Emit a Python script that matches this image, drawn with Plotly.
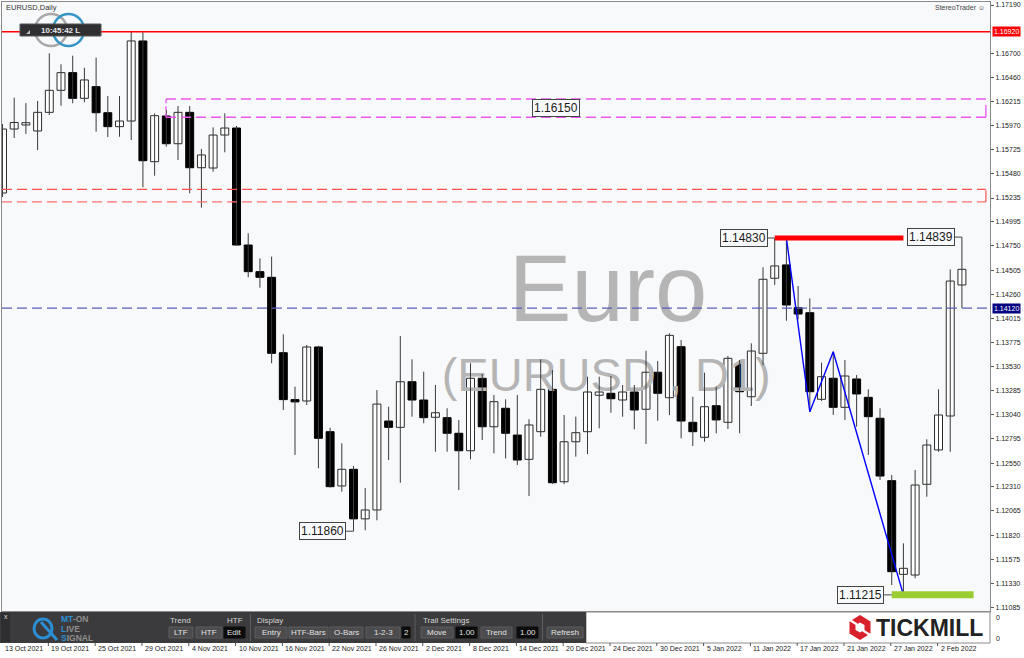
import plotly.graph_objects as go

# ---------------- data (EURUSD daily) ----------------
opens = [1.15286, 1.15934, 1.15975, 1.15914, 1.16103, 1.16326, 1.16505, 1.16245, 1.16363, 1.16099,
         1.15958, 1.16015, 1.16826, 1.15603, 1.16066, 1.15785, 1.16103, 1.15542, 1.15539, 1.15873,
         1.15944, 1.14759, 1.14489, 1.14432, 1.13668, 1.13193, 1.13179, 1.13726, 1.12868, 1.12318,
         1.12487, 1.11985, 1.12075, 1.12976, 1.12912, 1.13374, 1.13189, 1.13014, 1.13010, 1.12852,
         1.12675, 1.13409, 1.12918, 1.13105, 1.12834, 1.12588, 1.12868, 1.13297, 1.12361, 1.12766,
         1.12868, 1.13237, 1.13257, 1.13189, 1.13270, 1.13095, 1.13470, 1.13212, 1.13729, 1.12963,
         1.12811, 1.13131, 1.12963, 1.13554, 1.13222, 1.13662, 1.14422, 1.14557, 1.14124, 1.14073,
         1.13196, 1.13409, 1.13115, 1.13402, 1.13216, 1.13004, 1.12372, 1.11423, 1.11416, 1.12335,
         1.12683, 1.13027, 1.14354]
highs = [1.15985, 1.16251, 1.16197, 1.16218, 1.16701, 1.16590, 1.16677, 1.16555, 1.16657, 1.16268,
         1.16268, 1.16927, 1.16914, 1.16093, 1.16127, 1.16167, 1.16167, 1.15732, 1.15951, 1.16093,
         1.15965, 1.14878, 1.14624, 1.14641, 1.13855, 1.13324, 1.13746, 1.13739, 1.12908, 1.12750,
         1.12520, 1.12298, 1.13290, 1.13121, 1.13837, 1.13601, 1.13476, 1.13341, 1.13105, 1.12987,
         1.13561, 1.13452, 1.13240, 1.13196, 1.13240, 1.12994, 1.13601, 1.13493, 1.13037, 1.13020,
         1.13425, 1.13425, 1.13432, 1.13341, 1.13341, 1.13688, 1.13584, 1.13865, 1.13797, 1.13222,
         1.13466, 1.13324, 1.13635, 1.13594, 1.13763, 1.14533, 1.14830, 1.14825, 1.14344, 1.14219,
         1.13567, 1.13678, 1.13594, 1.13442, 1.13297, 1.13105, 1.12429, 1.11737, 1.12480, 1.12791,
         1.13297, 1.14513, 1.14839]
lows = [1.15245, 1.15843, 1.15884, 1.15721, 1.16076, 1.16170, 1.16195, 1.16205, 1.15907, 1.15853,
        1.15856, 1.15823, 1.15344, 1.15461, 1.15755, 1.15620, 1.15283, 1.15137, 1.15502, 1.15698,
        1.14752, 1.14432, 1.14327, 1.13561, 1.13088, 1.12632, 1.13138, 1.12497, 1.12301, 1.12260,
        1.11860, 1.11870, 1.11970, 1.12581, 1.12351, 1.13020, 1.12953, 1.12665, 1.12665, 1.12277,
        1.12588, 1.12784, 1.12649, 1.12598, 1.12530, 1.12216, 1.12817, 1.12338, 1.12338, 1.12615,
        1.12642, 1.12902, 1.13060, 1.13020, 1.12892, 1.12743, 1.12979, 1.13037, 1.12801, 1.12723,
        1.12766, 1.12852, 1.12895, 1.12852, 1.13128, 1.13543, 1.14354, 1.13992, 1.14006, 1.13070,
        1.13179, 1.13037, 1.12987, 1.12919, 1.12632, 1.12379, 1.11315, 1.11215, 1.11383, 1.12209,
        1.12665, 1.12665, 1.14120]
closes = [1.15934, 1.16000, 1.15998, 1.16103, 1.16326, 1.16505, 1.16245, 1.16431, 1.16099, 1.15958,
          1.16015, 1.16826, 1.15613, 1.16069, 1.15785, 1.16103, 1.15542, 1.15671, 1.15873, 1.15944,
          1.14759, 1.14489, 1.14432, 1.13662, 1.13193, 1.13170, 1.13726, 1.12801, 1.12311, 1.12487,
          1.11985, 1.12075, 1.13148, 1.12912, 1.13374, 1.13189, 1.13010, 1.13060, 1.12852, 1.12675,
          1.13409, 1.12918, 1.13172, 1.12852, 1.12581, 1.12936, 1.13297, 1.12351, 1.12766, 1.12858,
          1.13270, 1.13270, 1.13202, 1.13270, 1.13088, 1.13470, 1.13257, 1.13844, 1.12976, 1.12868,
          1.13121, 1.12987, 1.13611, 1.13273, 1.13685, 1.14412, 1.14547, 1.14151, 1.14060, 1.13273,
          1.13425, 1.13115, 1.13432, 1.13250, 1.13020, 1.12419, 1.11450, 1.11484, 1.12328, 1.12733,
          1.13037, 1.14394, 1.14513]

date_labels = ["13 Oct 2021", "19 Oct 2021", "25 Oct 2021", "29 Oct 2021", "4 Nov 2021",
               "10 Nov 2021", "16 Nov 2021", "22 Nov 2021", "26 Nov 2021", "2 Dec 2021",
               "8 Dec 2021", "14 Dec 2021", "20 Dec 2021", "24 Dec 2021", "30 Dec 2021",
               "5 Jan 2022", "11 Jan 2022", "17 Jan 2022", "21 Jan 2022", "27 Jan 2022",
               "2 Feb 2022"]
label_step = 4  # one date label every 4 bars

price_ticks = [1.17190, 1.16700, 1.16460, 1.16215, 1.15970, 1.15725, 1.15480, 1.15235,
               1.14995, 1.14750, 1.14505, 1.14260, 1.14015, 1.13775, 1.13530, 1.13285, 1.13040,
               1.12795, 1.12550, 1.12310, 1.12065, 1.11820, 1.11575, 1.11330, 1.11085]

resistance_level = 1.16920
bid_level = 1.14120
magenta_zone = [1.16053, 1.16238]
magenta_start_bar = 14
red_zone = [1.15195, 1.15323]
zone_end_bar = 84.05
high_mark = [66, 77, 1.14830]      # bar from, bar to, price
low_mark = [76, 83, 1.11215]
zigzag_bars = [67, 69, 71, 77]
zigzag_prices = [1.14827, 1.13070, 1.13678, 1.11215]
price_labels = [(66, 1.14830, "1.14830"), (82, 1.14839, "1.14839"),
                (76, 1.11215, "1.11215"), (30, 1.11860, "1.11860")]
zone_label = (47.3, 1.16146, "1.16150")

X_RANGE = [-0.043, 84.40]
Y_RANGE = [1.110516, 1.172207]

W, H = 1024, 658
ML, MR, MT, MB = 2, 34, 2, 47
PW = W - ML - MR
PH = H - MT - MB


def X(px):
    return (px - ML) / PW


def Y(py):
    return (H - MB - py) / PH


n = len(opens)
idx = list(range(n))

fig = go.Figure()

# watermark (drawn first so candles are over it)
fig.add_trace(go.Scatter(x=[51.75], y=[1.14225], mode="text", text=["Euro"],
                         textfont=dict(family="Liberation Sans", size=94, color="#b5b5b5"),
                         hoverinfo="skip"))
fig.add_trace(go.Scatter(x=[51.6], y=[1.13395], mode="text", text=["(EURUSD , D1)"],
                         textfont=dict(family="Liberation Sans", size=47, color="#b5b5b5"),
                         hoverinfo="skip"))

# wicks
wx, wy = [], []
for i in idx:
    wx += [i, i, None]
    wy += [lows[i], highs[i], None]
fig.add_trace(go.Scatter(x=wx, y=wy, mode="lines", line=dict(color="#3a3a3a", width=1),
                         hoverinfo="skip"))

# bodies
base = [min(o, c) for o, c in zip(opens, closes)]
hgt = [max(abs(c - o), 0.00002) for o, c in zip(opens, closes)]
fill = ["#ffffff" if c >= o else "#000000" for o, c in zip(opens, closes)]
edge = ["#2a2a2a" if c >= o else "#000000" for o, c in zip(opens, closes)]
fig.add_trace(go.Bar(x=idx, y=hgt, base=base, width=0.68,
                     marker=dict(color=fill, line=dict(color=edge, width=1)),
                     hoverinfo="skip"))

# zigzag
fig.add_trace(go.Scatter(x=zigzag_bars, y=zigzag_prices, mode="lines",
                         line=dict(color="#0000ff", width=1.4), hoverinfo="skip"))

shapes = []
dash = "10px,5px"
# resistance solid line
shapes.append(dict(type="line", xref="paper", yref="y", x0=0, x1=1,
                   y0=resistance_level, y1=resistance_level,
                   line=dict(color="#ff0000", width=1.6)))
# magenta dashed zone
for lv in magenta_zone:
    shapes.append(dict(type="line", xref="x", yref="y", x0=magenta_start_bar - 0.03, x1=zone_end_bar,
                       y0=lv, y1=lv, line=dict(color="#ee55ee", width=1.3, dash=dash)))
shapes.append(dict(type="line", xref="x", yref="y", x0=magenta_start_bar - 0.03, x1=magenta_start_bar - 0.03,
                   y0=magenta_zone[0], y1=magenta_zone[1], line=dict(color="#ee55ee", width=1.3, dash="4px,3px")))
shapes.append(dict(type="line", xref="x", yref="y", x0=zone_end_bar, x1=zone_end_bar,
                   y0=magenta_zone[0], y1=magenta_zone[1] - 0.0006, line=dict(color="#ee55ee", width=1.3)))
# red dashed zone
shapes.append(dict(type="line", xref="x", yref="y", x0=X_RANGE[0], x1=zone_end_bar,
                   y0=red_zone[1], y1=red_zone[1], line=dict(color="#ff4f4f", width=1.3, dash=dash)))
shapes.append(dict(type="line", xref="x", yref="y", x0=X_RANGE[0], x1=zone_end_bar,
                   y0=red_zone[0], y1=red_zone[0], line=dict(color="#ff6f6f", width=1.3, dash=dash)))
shapes.append(dict(type="line", xref="x", yref="y", x0=zone_end_bar, x1=zone_end_bar,
                   y0=red_zone[0], y1=red_zone[1] - 0.0001, line=dict(color="#ff5f5f", width=1.3)))
# bid dashed line
shapes.append(dict(type="line", xref="paper", yref="y", x0=0, x1=1, y0=bid_level, y1=bid_level,
                   line=dict(color="#5c5cb8", width=1.3, dash=dash)))
# high / low bars
shapes.append(dict(type="line", xref="x", yref="y", x0=high_mark[0], x1=high_mark[1],
                   y0=high_mark[2], y1=high_mark[2], line=dict(color="#ff0000", width=5)))
shapes.append(dict(type="line", xref="x", yref="y", x0=low_mark[0], x1=low_mark[1],
                   y0=low_mark[2], y1=low_mark[2], line=dict(color="#9acd32", width=7)))

# ---- top-left logo circles & time box ----
shapes.append(dict(type="circle", xref="paper", yref="paper", x0=X(35), x1=X(67), y0=Y(46), y1=Y(14),
                   line=dict(color="#a8a8a8", width=2.5)))
shapes.append(dict(type="circle", xref="paper", yref="paper", x0=X(53), x1=X(84), y0=Y(46), y1=Y(14),
                   line=dict(color="#3495c6", width=2.5)))
shapes.append(dict(type="rect", xref="paper", yref="paper", x0=X(20), x1=X(101), y0=Y(36), y1=Y(24),
                   fillcolor="#303033", line=dict(color="#555", width=1)))
shapes.append(dict(type="path", xref="paper", yref="paper",
                   path=f"M{X(26)},{Y(34)} L{X(30)},{Y(34)} L{X(30)},{Y(30)} Z",
                   fillcolor="#bbbbbb", line=dict(width=0)))

# ---- lower sub-window / toolbar ----
shapes.append(dict(type="rect", xref="paper", yref="paper", x0=X(586), x1=X(990), y0=Y(643), y1=Y(612),
                   fillcolor="#ffffff", line=dict(color="#8a8a8a", width=1)))
shapes.append(dict(type="rect", xref="paper", yref="paper", x0=X(0), x1=X(586), y0=Y(643), y1=Y(612),
                   fillcolor="#3b3b3d", line=dict(width=0)))
shapes.append(dict(type="rect", xref="paper", yref="paper", x0=X(1), x1=X(10), y0=Y(642), y1=Y(613),
                   fillcolor="#2e2e30", line=dict(width=0)))
for sx in [250.5, 415, 542.5]:
    shapes.append(dict(type="line", xref="paper", yref="paper", x0=X(sx), x1=X(sx), y0=Y(641), y1=Y(614),
                       line=dict(color="#5e5e60", width=1)))
buttons = [("LTF", 169, 193, False), ("HTF", 196, 222, False), ("Edit", 224, 245, True),
           ("Entry", 255, 287, False), ("HTF-Bars", 289, 328, False), ("O-Bars", 330, 363, False),
           ("1-2-3", 366, 400, False), ("2", 402, 410, True), ("Move", 421, 453, False),
           ("1.00", 456, 477, True), ("Trend", 481, 512, False), ("1.00", 517, 538, True),
           ("Refresh", 547, 583, False)]
annotations = []
for lab, x0, x1, dark in buttons:
    shapes.append(dict(type="rect", xref="paper", yref="paper", x0=X(x0), x1=X(x1), y0=Y(638), y1=Y(627),
                       fillcolor="#0c0c0c" if dark else "#4c4c4e",
                       line=dict(color="#0c0c0c" if dark else "#5c5c5e", width=1)))
    annotations.append(dict(xref="paper", yref="paper", x=X((x0 + x1) / 2), y=Y(632.5), text=lab,
                            showarrow=False, xanchor="center", yanchor="middle",
                            font=dict(family="Liberation Sans", size=8, color="#e2e2e2")))
for lab, lx in [("Trend", 168), ("HTF", 225), ("Display", 255), ("Trail Settings", 421)]:
    annotations.append(dict(xref="paper", yref="paper", x=X(lx), y=Y(620.5), text=lab, showarrow=False,
                            xanchor="left", yanchor="middle",
                            font=dict(family="Liberation Sans", size=8, color="#d6d6d6")))
annotations.append(dict(xref="paper", yref="paper", x=X(5.5), y=Y(616), text="x", showarrow=False,
                        xanchor="center", yanchor="middle",
                        font=dict(family="Liberation Sans", size=7, color="#dddddd")))
# MT-ON LIVE SIGNAL logo
shapes.append(dict(type="circle", xref="paper", yref="paper", x0=X(34), x1=X(52), y0=Y(638), y1=Y(619),
                   line=dict(color="#2b8fd6", width=3)))
shapes.append(dict(type="line", xref="paper", yref="paper", x0=X(41), x1=X(57), y0=Y(622), y1=Y(640),
                   line=dict(color="#2b8fd6", width=3)))
for txt, ly in [("<b><span style='color:#2b8fd6'>MT</span><span style='color:#8e8e8e'>-ON</span></b>", 619),
                ("<b><span style='color:#2b8fd6'>L</span><span style='color:#8e8e8e'>IVE</span></b>", 628.5),
                ("<b><span style='color:#2b8fd6'>S</span><span style='color:#8e8e8e'>IGNAL</span></b>", 638)]:
    annotations.append(dict(xref="paper", yref="paper", x=X(60), y=Y(ly), text=txt, showarrow=False,
                            xanchor="left", yanchor="middle", borderpad=0,
                            font=dict(family="Liberation Sans", size=8.5, color="#8e8e8e")))
# TICKMILL logo
cx, cy = 860, 627.5
hexpath = (f"M{X(cx)},{Y(cy-12.5)} L{X(cx+10.5)},{Y(cy-6)} L{X(cx+10.5)},{Y(cy+6)} "
           f"L{X(cx)},{Y(cy+12.5)} L{X(cx-10.5)},{Y(cy+6)} L{X(cx-10.5)},{Y(cy-6)} Z")
shapes.append(dict(type="path", xref="paper", yref="paper", path=hexpath, fillcolor="#d7202a",
                   line=dict(width=0)))
inner = (f"M{X(cx)},{Y(cy-5)} L{X(cx+4.5)},{Y(cy-2.5)} L{X(cx+4.5)},{Y(cy+2.5)} "
         f"L{X(cx)},{Y(cy+5)} L{X(cx-4.5)},{Y(cy+2.5)} L{X(cx-4.5)},{Y(cy-2.5)} Z")
shapes.append(dict(type="path", xref="paper", yref="paper", path=inner, fillcolor="#ffffff",
                   line=dict(width=0)))
shapes.append(dict(type="line", xref="paper", yref="paper", x0=X(cx - 11), x1=X(cx - 3), y0=Y(cy - 8), y1=Y(cy - 3),
                   line=dict(color="#ffffff", width=2.2)))
shapes.append(dict(type="line", xref="paper", yref="paper", x0=X(cx + 3), x1=X(cx + 11), y0=Y(cy + 3), y1=Y(cy + 8),
                   line=dict(color="#ffffff", width=2.2)))
annotations.append(dict(xref="paper", yref="paper", x=X(874), y=Y(628), text="<b>TICKMILL</b>",
                        showarrow=False, xanchor="left", yanchor="middle",
                        font=dict(family="Liberation Sans", size=23, color="#232323")))
for zy in [617, 638]:
    annotations.append(dict(xref="paper", yref="paper", x=X(994), y=Y(zy), text="0", showarrow=False,
                            xanchor="left", yanchor="middle",
                            font=dict(family="Liberation Sans", size=7, color="#222")))

# date labels and their tick marks
for k, lab in enumerate(date_labels):
    bar = k * label_step
    shapes.append(dict(type="line", xref="x", yref="paper", x0=bar - 0.08, x1=bar - 0.08,
                       y0=Y(646), y1=Y(643), line=dict(color="#555", width=1)))
    annotations.append(dict(xref="x", yref="paper", x=bar, y=Y(648.5), text=lab, showarrow=False,
                            xanchor="left", yanchor="middle",
                            font=dict(family="Liberation Sans", size=7, color="#222")))

# price labels with connectors
for bar, pr, txt in price_labels:
    annotations.append(dict(xref="x", yref="y", x=bar, y=pr, text=txt, showarrow=True, arrowhead=0,
                            arrowwidth=1, arrowcolor="#444", ax=-31, ay=0,
                            bordercolor="#444", borderwidth=1, borderpad=1, bgcolor="#f8f9fb",
                            font=dict(family="Liberation Sans", size=12, color="#1a1a1a")))
annotations.append(dict(xref="x", yref="y", x=zone_label[0], y=zone_label[1], text=zone_label[2],
                        showarrow=False, bordercolor="#444", borderwidth=1, borderpad=1, bgcolor="#f8f9fb",
                        font=dict(family="Liberation Sans", size=12, color="#1a1a1a")))

# right-axis highlighted price labels
annotations.append(dict(xref="paper", yref="y", x=X(992), y=resistance_level, text="1.16920",
                        showarrow=False, xanchor="left", yanchor="middle", bgcolor="#ff0000",
                        borderpad=1, font=dict(family="Liberation Sans", size=7, color="#ffffff")))
annotations.append(dict(xref="paper", yref="y", x=X(992), y=bid_level, text="1.14120",
                        showarrow=False, xanchor="left", yanchor="middle", bgcolor="#000080",
                        borderpad=1, font=dict(family="Liberation Sans", size=7, color="#ffffff")))

# top texts
annotations.append(dict(xref="paper", yref="paper", x=X(4), y=Y(8), text="EURUSD,Daily", showarrow=False,
                        xanchor="left", yanchor="middle",
                        font=dict(family="Liberation Sans", size=7.5, color="#333")))
annotations.append(dict(xref="paper", yref="paper", x=X(987), y=Y(8), text="StereoTrader ☺", showarrow=False,
                        xanchor="right", yanchor="middle",
                        font=dict(family="Liberation Sans", size=7, color="#444")))
annotations.append(dict(xref="paper", yref="paper", x=X(60.5), y=Y(30), text="<b>10:45:42 L</b>",
                        showarrow=False, xanchor="center", yanchor="middle",
                        font=dict(family="Liberation Sans", size=8, color="#e8e8e8")))

fig.update_layout(
    width=W, height=H,
    margin=dict(l=ML, r=MR, t=MT, b=MB),
    paper_bgcolor="#ffffff", plot_bgcolor="#f8f9fb",
    showlegend=False,
    shapes=shapes, annotations=annotations,
    bargap=0,
    xaxis=dict(range=X_RANGE, showgrid=False, zeroline=False, showticklabels=False, ticks="",
               showline=True, mirror=True, linecolor="#8a8a8a", linewidth=1, fixedrange=True),
    yaxis=dict(range=Y_RANGE, side="right", showgrid=False, zeroline=False,
               tickvals=price_ticks, ticktext=[f"{v:.5f}" for v in price_ticks],
               tickfont=dict(family="Liberation Sans", size=7, color="#222"),
               ticks="outside", ticklen=3, tickcolor="#555",
               showline=True, mirror=True, linecolor="#8a8a8a", linewidth=1, fixedrange=True),
)

fig.write_html("out.html",
               config={"displayModeBar": False, "staticPlot": True},
               post_script="document.body.style.margin='0';document.body.style.padding='0';"
                           "document.body.style.overflow='hidden';")
